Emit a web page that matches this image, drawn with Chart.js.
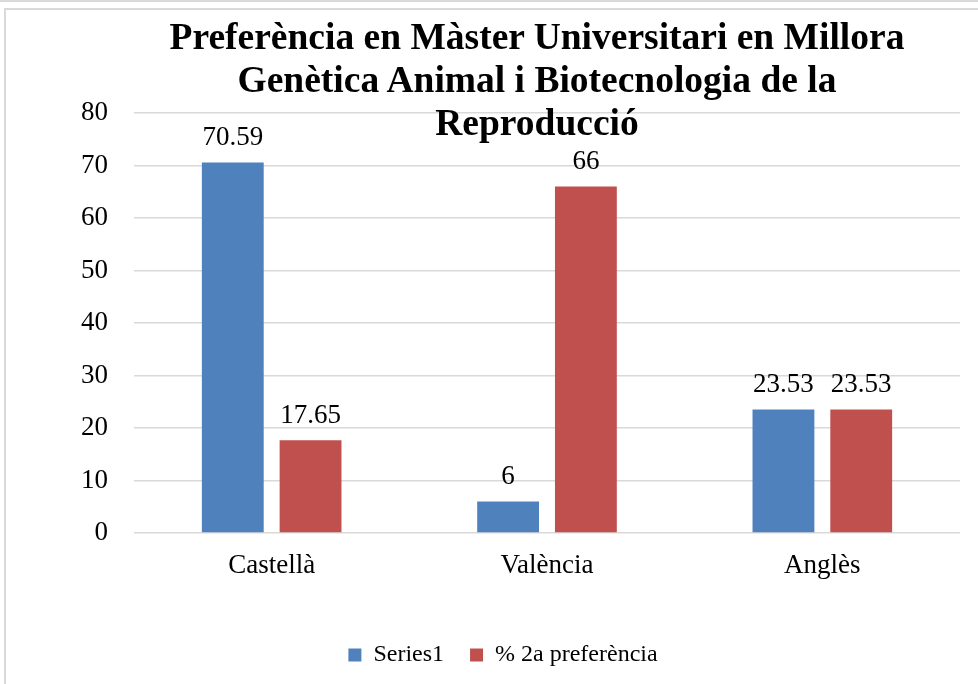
<!DOCTYPE html>
<html lang="ca">
  <head>
    <meta charset="UTF-8" />
    <title>Preferència en Màster</title>
    <style>
      body {
        margin: 0;
        background: #ffffff;
      }
      .wrap {
        position: relative;
        width: 978px;
        height: 684px;
        overflow: hidden;
      }
      .topband {
        position: absolute;
        left: 0;
        top: 0;
        width: 978px;
        height: 2px;
        background: #d9d9d9;
      }
      .frame {
        position: absolute;
        left: 4px;
        top: 8px;
        width: 990px;
        height: 700px;
        border: 2px solid #d9d9d9;
      }
      canvas {
        position: absolute;
        left: 0;
        top: 0;
      }
      .title {
        position: absolute;
        left: 0;
        top: 15px;
        width: 1074px;
        text-align: center;
        font-family: "Liberation Serif", "Times New Roman", serif;
        font-weight: bold;
        font-size: 37.5px;
        line-height: 43px;
        color: #000;
        white-space: nowrap;
        pointer-events: none;
      }
    </style>
  </head>
  <body>
    <div class="wrap">
      <div class="topband"></div>
      <div class="frame"></div>
      <canvas id="chart" width="978" height="684"></canvas>
      <div class="title">
        Preferència en Màster Universitari en Millora<br />
        Genètica Animal i Biotecnologia de la<br />
        Reproducció
      </div>
    </div>

    <script src="https://cdn.jsdelivr.net/npm/chart.js"></script>
    <script>
      var categories = ["Castellà", "València", "Anglès"];
      var series1 = [70.59, 6, 23.53];
      var series2 = [17.65, 66, 23.53];
      var seriesNames = ["Series1", "% 2a preferència"];

      var serif = "'Liberation Serif', 'Times New Roman', serif";

      // value labels above each bar
      var barLabels = {
        id: "barLabels",
        afterDatasetsDraw: function (chart) {
          var ctx = chart.ctx;
          ctx.save();
          ctx.font = "27px " + serif;
          ctx.fillStyle = "#000";
          ctx.textAlign = "center";
          ctx.textBaseline = "bottom";
          chart.data.datasets.forEach(function (ds, i) {
            var meta = chart.getDatasetMeta(i);
            meta.data.forEach(function (bar, j) {
              ctx.fillText(String(ds.data[j]), bar.x, bar.y - 11);
            });
          });
          ctx.restore();
        },
      };

      var ctx = document.getElementById("chart").getContext("2d");
      new Chart(ctx, {
        type: "bar",
        data: {
          labels: categories,
          datasets: [
            {
              label: seriesNames[0],
              data: series1,
              backgroundColor: "#4f81bd",
              categoryPercentage: 0.565,
              barPercentage: 0.795,
            },
            {
              label: seriesNames[1],
              data: series2,
              backgroundColor: "#c0504d",
              categoryPercentage: 0.565,
              barPercentage: 0.795,
            },
          ],
        },
        options: {
          responsive: false,
          animation: false,
          layout: {
            padding: { top: 113, right: 18, bottom: 7, left: 46 },
          },
          scales: {
            x: {
              grid: { display: false },
              border: { display: false },
              ticks: {
                color: "#000",
                font: { family: serif, size: 27 },
                padding: 9,
              },
              afterFit: function (scale) {
                scale.height = 84;
              },
            },
            y: {
              min: 0,
              max: 80,
              ticks: {
                stepSize: 10,
                color: "#000",
                font: { family: serif, size: 27 },
                padding: 26,
              },
              grid: {
                color: "#d9d9d9",
                lineWidth: 1.5,
                drawTicks: false,
              },
              border: { display: false },
              afterFit: function (scale) {
                scale.width = 88;
              },
            },
          },
          plugins: {
            legend: {
              position: "bottom",
              labels: {
                color: "#000",
                font: { family: serif, size: 24 },
                boxWidth: 13,
                boxHeight: 13,
                padding: 26,
              },
            },
            tooltip: { enabled: false },
          },
        },
        plugins: [barLabels],
      });
    </script>
  </body>
</html>
